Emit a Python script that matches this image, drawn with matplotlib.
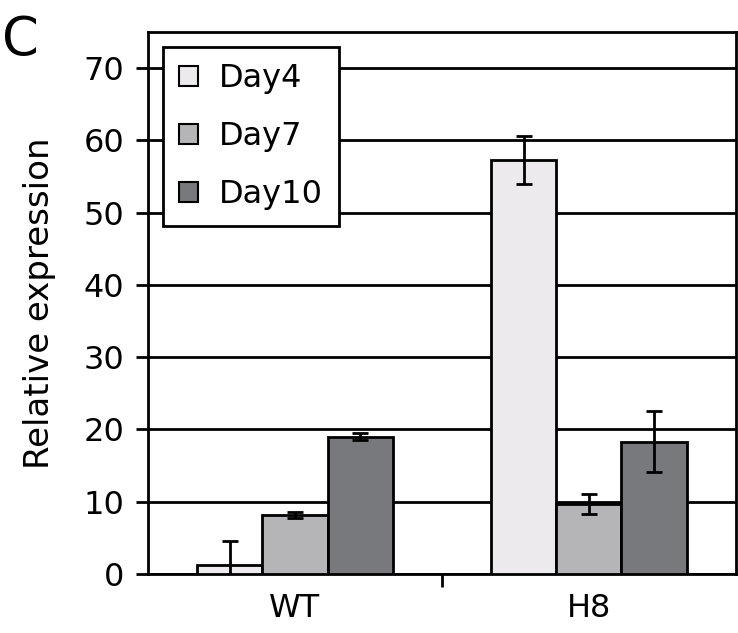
import matplotlib
matplotlib.use("Agg")
import matplotlib.pyplot as plt
import numpy as np

groups = ["WT", "H8"]
series = ["Day4", "Day7", "Day10"]
day4 = [1.2, 57.3]
day7 = [8.2, 9.7]
day10 = [19.0, 18.3]
err4 = [3.4, 3.3]
err7 = [0.4, 1.4]
err10 = [0.5, 4.2]
yticks = [0, 10, 20, 30, 40, 50, 60, 70]
colors = ["#ECEAEC", "#B5B5B8", "#78797C"]

plt.rcParams['font.family'] = ['DejaVu Sans']
fig = plt.figure(figsize=(7.38, 6.33), dpi=100)
ax = fig.add_axes([0.2005, 0.0932, 0.7965, 0.8562])

x = np.arange(len(groups))
w = 0.222
vals = [day4, day7, day10]
errs = [err4, err7, err10]
for i, (v, e, c, name) in enumerate(zip(vals, errs, colors, series)):
    ax.bar(x + (i - 1) * w, v, width=w, color=c, edgecolor='black', linewidth=2,
           label=name, zorder=3)
    ax.errorbar(x + (i - 1) * w, v, yerr=e, fmt='none', ecolor='black',
                elinewidth=2, capsize=6, capthick=2, zorder=4)

ax.set_xlim(-0.5, 1.5)
ax.set_ylim(0, 75)
ax.set_yticks(yticks)
ax.yaxis.grid(True, color='black', linewidth=2, zorder=0)
ax.set_axisbelow(True)
for s in ax.spines.values():
    s.set_linewidth(2)
    s.set_color('black')

ax.set_xticks([0.5])
ax.set_xticklabels([""])
ax.set_xticks(x, minor=True)
ax.set_xticklabels(groups, minor=True)
ax.tick_params(axis='x', which='minor', length=0, labelsize=23, pad=14)
ax.tick_params(axis='x', which='major', length=9, width=2, direction='out')
ax.tick_params(axis='y', length=9, width=2, direction='out', labelsize=23, pad=8)
ax.set_ylabel("Relative expression", fontsize=24.5, labelpad=20)

leg = ax.legend(loc='upper left', bbox_to_anchor=(0.026, 0.972), borderaxespad=0,
                fontsize=23, fancybox=False, shadow=False, framealpha=1,
                edgecolor='black', handlelength=0.6, handleheight=0.6,
                handletextpad=0.65, labelspacing=0.85, borderpad=0.5)
leg.get_frame().set_linewidth(2)
for h in leg.legend_handles:
    h.set_linewidth(1.5)

fig.text(0.003, 0.978, "C", fontsize=38, ha='left', va='top')

fig.savefig("out.png", dpi=100)
